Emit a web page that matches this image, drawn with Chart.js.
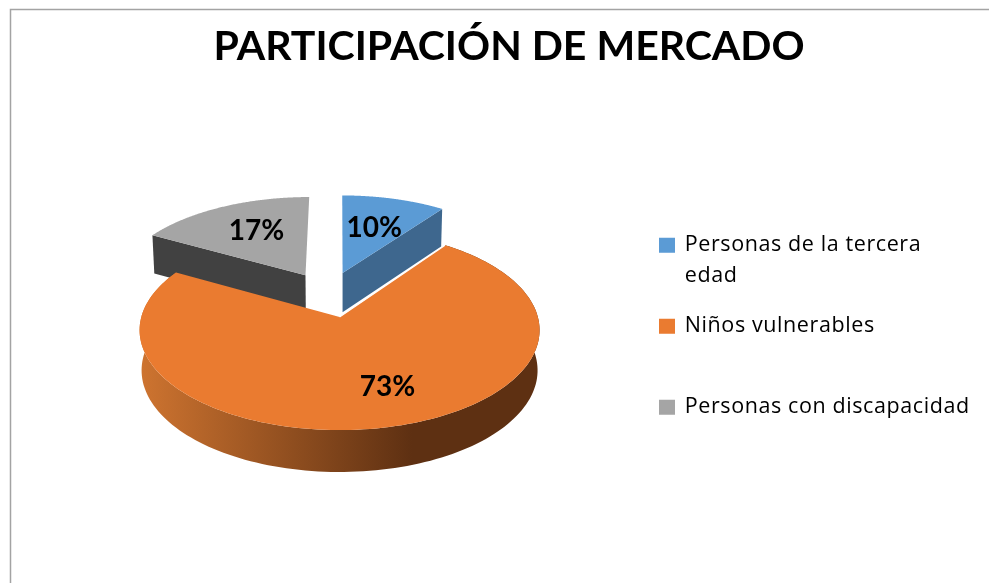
<!DOCTYPE html>
<html><head><meta charset="utf-8">
<script src="https://cdn.jsdelivr.net/npm/chart.js@4/dist/chart.umd.min.js"></script>
<style>html,body{margin:0;padding:0;background:#fff;overflow:hidden}canvas{display:block}</style>
</head><body>
<canvas id="c" width="989" height="583"></canvas>
<script>
const titleText = 'PARTICIPACIÓN DE MERCADO';
const categories = ['Personas de la tercera edad', 'Niños vulnerables', 'Personas con discapacidad'];
const legendLines = [['Personas de la tercera', 'edad'], ['Niños vulnerables', ''], ['Personas con discapacidad', '']];
const shares = [10, 73, 17];
const topColors = ['#5B9BD5', '#EA7B30', '#A5A5A5'];
const wallColors = ['#3E678E', null, '#414141'];
const explode = [[0.016, -0.475], [0, 0], [-0.182, -0.452]];
const cutFace = [1, null, 0];
const labelReach = [0.59, 0.68, 0.62];
const labelTurn = [0, -6.4, 2.6];
const drawOrder = [2, 0, 1];

const PERSP = 0.13, TILT = 0.4957;
function projector(arc, ex) {
  return function (X, Y, lower) {
    const gx = X + ex[0], gy = Y + ex[1], w = 1 - PERSP * gy;
    const sx = arc.outerRadius * gx / w, sy = arc.outerRadius * TILT * gy / w;
    return lower
      ? [arc.x + sx * 0.99, arc.y + sy + 40 + 1.9 * gy]
      : [arc.x + sx, arc.y + sy];
  };
}
function trace(ctx, pts) {
  ctx.beginPath();
  pts.forEach((p, i) => i ? ctx.lineTo(p[0], p[1]) : ctx.moveTo(p[0], p[1]));
  ctx.closePath();
}
function rim(arc, proj, lower) {
  const pts = [], n = 160;
  for (let i = 0; i <= n; i++) {
    const a = arc.startAngle + (arc.endAngle - arc.startAngle) * i / n;
    pts.push(proj(Math.cos(a), Math.sin(a), lower));
  }
  return pts;
}
const pie3d = {
  id: 'pie3d',
  beforeDraw(chart) {
    const ctx = chart.ctx;
    ctx.save();
    ctx.strokeStyle = '#A3A3A3';
    ctx.lineWidth = 1.5;
    ctx.beginPath();
    ctx.moveTo(10.5, 583); ctx.lineTo(10.5, 9.5); ctx.lineTo(989, 9.5);
    ctx.stroke();
    ctx.restore();
  },
  afterLayout(chart) {
    chart.titleBlock.left = 29;
    chart.titleBlock.right = 989;
    const lg = chart.legend;
    lg.left = 641;
    lg.right = 989;
    lg.top += 65;
    lg.bottom += 65;
    if (!lg._spaced) {
      lg._spaced = true;
      const inner = lg._draw.bind(lg);
      lg._draw = function () {
        chart.ctx.letterSpacing = '0.6px';
        inner();
        chart.ctx.letterSpacing = '0px';
      };
    }
  },
  beforeDatasetDraw(chart, args) {
    const ctx = chart.ctx, arcs = args.meta.data;
    ctx.save();
    drawOrder.forEach(i => {
      const arc = arcs[i].getProps(['x', 'y', 'startAngle', 'endAngle', 'outerRadius'], true);
      const proj = projector(arc, explode[i]);
      const up = rim(arc, proj, false), low = rim(arc, proj, true);
      let wall = wallColors[i];
      if (!wall) {
        wall = ctx.createLinearGradient(140, 0, 540, 0);
        wall.addColorStop(0, '#CE7430');
        wall.addColorStop(0.68, '#5E3012');
        wall.addColorStop(1, '#5E3012');
      }
      ctx.fillStyle = wall;
      if (Math.sin((arc.startAngle + arc.endAngle) / 2) > 0) {
        trace(ctx, up.concat(low.slice().reverse()));
        ctx.fill();
      }
      if (cutFace[i] !== null) {
        const k = cutFace[i];
        const p = k ? up[up.length - 1] : up[0], q = k ? low[low.length - 1] : low[0];
        trace(ctx, [proj(0, 0, false), p, q, proj(0, 0, true)]);
        ctx.fill();
      }
      ctx.fillStyle = topColors[i];
      trace(ctx, [proj(0, 0, false)].concat(up));
      ctx.fill();
      if (i === 1) {
        ctx.strokeStyle = '#FFFFFF';
        ctx.lineWidth = 1.2;
        ctx.beginPath();
        ctx.moveTo(up[0][0], up[0][1]);
        const c = proj(0, 0, false);
        ctx.lineTo(c[0], c[1]);
        ctx.stroke();
      }
    });
    ctx.fillStyle = '#000';
    ctx.font = 'bold 28px Lato';
    ctx.textAlign = 'center';
    ctx.textBaseline = 'middle';
    const total = shares.reduce((a, b) => a + b, 0);
    arcs.forEach((el, i) => {
      const arc = el.getProps(['x', 'y', 'startAngle', 'endAngle', 'outerRadius'], true);
      const proj = projector(arc, explode[i]);
      const a = (arc.startAngle + arc.endAngle) / 2 + labelTurn[i] * Math.PI / 180;
      const p = proj(labelReach[i] * Math.cos(a), labelReach[i] * Math.sin(a), false);
      ctx.fillText(Math.round(shares[i] / total * 100) + '%', p[0], p[1] + 0.5);
    });
    ctx.restore();
    return false;
  }
};
new Chart(document.getElementById('c'), {
  type: 'pie',
  data: {
    labels: categories,
    datasets: [{ data: shares, backgroundColor: topColors, borderWidth: 0, radius: 198.3 }]
  },
  plugins: [pie3d],
  options: {
    responsive: false,
    animation: false,
    layout: { padding: { left: 14, right: 0, top: 0, bottom: 20 } },
    plugins: {
      tooltip: { enabled: false },
      title: {
        display: true, text: titleText, color: '#000',
        font: { family: 'Lato', weight: 'bold', size: 41, lineHeight: 1.2 },
        padding: { top: 22, bottom: 0 }
      },
      legend: {
        position: 'right',
        labels: {
          boxWidth: 14, boxHeight: 13, padding: 19, color: '#262626',
          font: { family: 'Open Sans', size: 21.5, lineHeight: 31 / 21.5 },
          generateLabels() {
            return legendLines.map((t, i) => ({ text: t, fillStyle: topColors[i], strokeStyle: topColors[i], lineWidth: 2, index: i, hidden: false }));
          }
        }
      }
    }
  }
});
</script>
</body></html>
